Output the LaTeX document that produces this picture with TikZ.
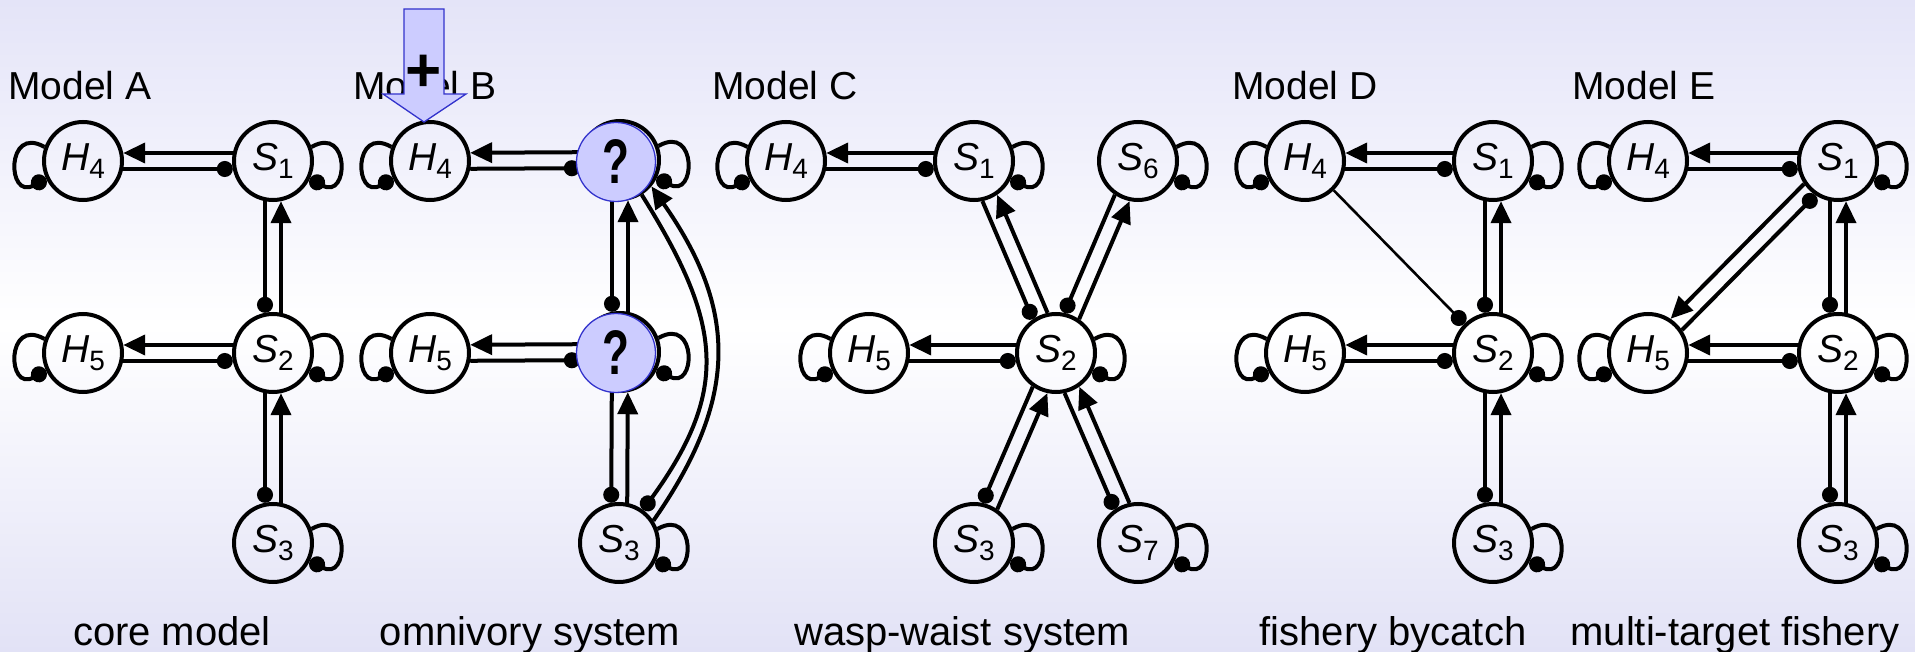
\documentclass[tikz,border=0pt]{standalone}
\usepackage{fontspec}
\setmainfont{Liberation Sans}
\usetikzlibrary{arrows.meta,calc}
\definecolor{bgtop}{RGB}{228,228,248}
\definecolor{bgbot}{RGB}{226,226,246}
\definecolor{qfill}{RGB}{204,204,255}
\definecolor{qdraw}{RGB}{51,51,204}
\newcommand{\lab}[2]{\fontsize{39}{39}\selectfont\textit{#1}\raisebox{-8pt}{\fontsize{28}{28}\selectfont #2}}
% #1 = prey (positive effect on #2), #2 = predator (negative effect on #1)
\newcommand{\dbl}[2]{%
  \draw[posarr,cut] ($(#1)!8pt!-90:(#2)$) -- ($(#2)!8pt!90:(#1)$);
  \draw[negdot,cut] ($(#2)!8pt!-90:(#1)$) -- ($(#1)!8pt!90:(#2)$);
}
\newcommand{\rloop}[1]{\draw[negdot] (#1.20) .. controls +(30:45pt) and +(-30:45pt) .. (#1.-25);}
\newcommand{\lloop}[1]{\draw[negdot] (#1.160) .. controls +(150:45pt) and +(210:45pt) .. (#1.205);}
\tikzset{
  nd/.style={circle, draw, line width=4pt, minimum size=78pt, inner sep=0pt, outer sep=2pt},
  posarr/.style={line width=4pt, -{Triangle[length=22pt,width=20pt]}},
  negdot/.style={line width=4pt, -{Circle[length=16pt]}},
  cut/.style={shorten <=40.2pt, shorten >=40.2pt},
  qnode/.style={circle, fill=qfill, draw=qdraw, line width=1.3pt, minimum size=79pt, inner sep=0pt},
  mlab/.style={anchor=base west, font=\fontsize{39}{39}\selectfont, inner sep=0pt},
  blab/.style={anchor=base, font=\fontsize{40}{40}\selectfont, inner sep=0pt},
}
\begin{document}
\begin{tikzpicture}[x=1pt,y=-1pt]
\useasboundingbox (0,0) rectangle (1915,652);
\shade[top color=bgtop, bottom color=bgbot, middle color=white] (0,0) rectangle (1915,652);

% ---------- Model A ----------
\node[nd] (aH4) at (83,161) {\lab{H}{4}};
\node[nd] (aS1) at (273,161) {\lab{S}{1}};
\node[nd] (aH5) at (83,353) {\lab{H}{5}};
\node[nd] (aS2) at (273,353) {\lab{S}{2}};
\node[nd] (aS3) at (273,543) {\lab{S}{3}};
\dbl{aS1}{aH4} \dbl{aS2}{aH5} \dbl{aS2}{aS1} \dbl{aS3}{aS2}
\lloop{aH4} \lloop{aH5} \rloop{aS1} \rloop{aS2} \rloop{aS3}

% ---------- Model B ----------
\node[nd] (bH4) at (430,161) {\lab{H}{4}};
\node[nd] (bQ1) at (620,160) {};
\node[nd] (bH5) at (430,353) {\lab{H}{5}};
\node[nd] (bQ2) at (620,352) {};
\node[nd] (bS3) at (619,543) {\lab{S}{3}};
\dbl{bQ1}{bH4} \dbl{bQ2}{bH5} \dbl{bQ2}{bQ1} \dbl{bS3}{bQ2}
\draw[posarr] (bS3.33) .. controls +(55:150pt) and +(-55:150pt) .. (bQ1.-40);
\draw[negdot] (bQ1.-58) .. controls +(-58:150pt) and +(54:150pt) .. (bS3.54);
\lloop{bH4} \lloop{bH5} \rloop{bQ1} \rloop{bQ2} \rloop{bS3}
\node[qnode] (bQ1o) at (616,162) {\scalebox{0.7}[1]{\fontsize{63}{63}\selectfont\bfseries ?}};
\node[qnode] (bQ2o) at (616,353) {\scalebox{0.7}[1]{\fontsize{63}{63}\selectfont\bfseries ?}};

% ---------- Model C ----------
\node[nd] (cH4) at (786,161) {\lab{H}{4}};
\node[nd] (cS1) at (974,161) {\lab{S}{1}};
\node[nd] (cS6) at (1138,161) {\lab{S}{6}};
\node[nd] (cH5) at (869,353) {\lab{H}{5}};
\node[nd] (cS2) at (1056,353) {\lab{S}{2}};
\node[nd] (cS3) at (974,543) {\lab{S}{3}};
\node[nd] (cS7) at (1138,543) {\lab{S}{7}};
\dbl{cS1}{cH4} \dbl{cS2}{cH5} \dbl{cS2}{cS1} \dbl{cS2}{cS6} \dbl{cS3}{cS2} \dbl{cS7}{cS2}
\lloop{cH4} \lloop{cH5} \rloop{cS1} \rloop{cS6} \rloop{cS2} \rloop{cS3} \rloop{cS7}

% ---------- Model D ----------
\node[nd] (dH4) at (1305,161) {\lab{H}{4}};
\node[nd] (dS1) at (1493,161) {\lab{S}{1}};
\node[nd] (dH5) at (1305,353) {\lab{H}{5}};
\node[nd] (dS2) at (1493,353) {\lab{S}{2}};
\node[nd] (dS3) at (1493,543) {\lab{S}{3}};
\dbl{dS1}{dH4} \dbl{dS2}{dH5} \dbl{dS2}{dS1} \dbl{dS3}{dS2}
\draw[negdot, line width=2.6pt] (dH4) -- (dS2);
\lloop{dH4} \lloop{dH5} \rloop{dS1} \rloop{dS2} \rloop{dS3}

% ---------- Model E ----------
\node[nd] (eH4) at (1648,161) {\lab{H}{4}};
\node[nd] (eS1) at (1838,161) {\lab{S}{1}};
\node[nd] (eH5) at (1648,353) {\lab{H}{5}};
\node[nd] (eS2) at (1838,353) {\lab{S}{2}};
\node[nd] (eS3) at (1838,543) {\lab{S}{3}};
\dbl{eS1}{eH4} \dbl{eS2}{eH5} \dbl{eS2}{eS1} \dbl{eS3}{eS2} \dbl{eS1}{eH5}
\lloop{eH4} \lloop{eH5} \rloop{eS1} \rloop{eS2} \rloop{eS3}

% ---------- labels ----------
\node[mlab] (tA) at (8,100) {Model A};
\node[mlab] (tB) at (353,100) {Model B};
\node[mlab] (tC) at (712,100) {Model C};
\node[mlab] (tD) at (1232,100) {Model D};
\node[mlab] (tE) at (1572,100) {Model E};
\node[blab] (bA) at (172,645) {core model};
\node[blab] (bB) at (530,645) {omnivory system};
\node[blab] (bC) at (962,645) {wasp-waist system};
\node[blab] (bD) at (1393,645) {fishery bycatch};
\node[blab] (bE) at (1735,645) {multi-target fishery};

% ---------- block arrow "+" ----------
\draw[fill=qfill, draw=qdraw, line width=1.3pt, line join=miter]
  (404,9) -- (444,9) -- (444,94) -- (466,94) -- (424,122) -- (383,94) -- (404,94) -- cycle;
\node[font=\fontsize{62}{62}\selectfont\bfseries, inner sep=0pt] (plus) at (424,73) {+};
\end{tikzpicture}
\end{document}
